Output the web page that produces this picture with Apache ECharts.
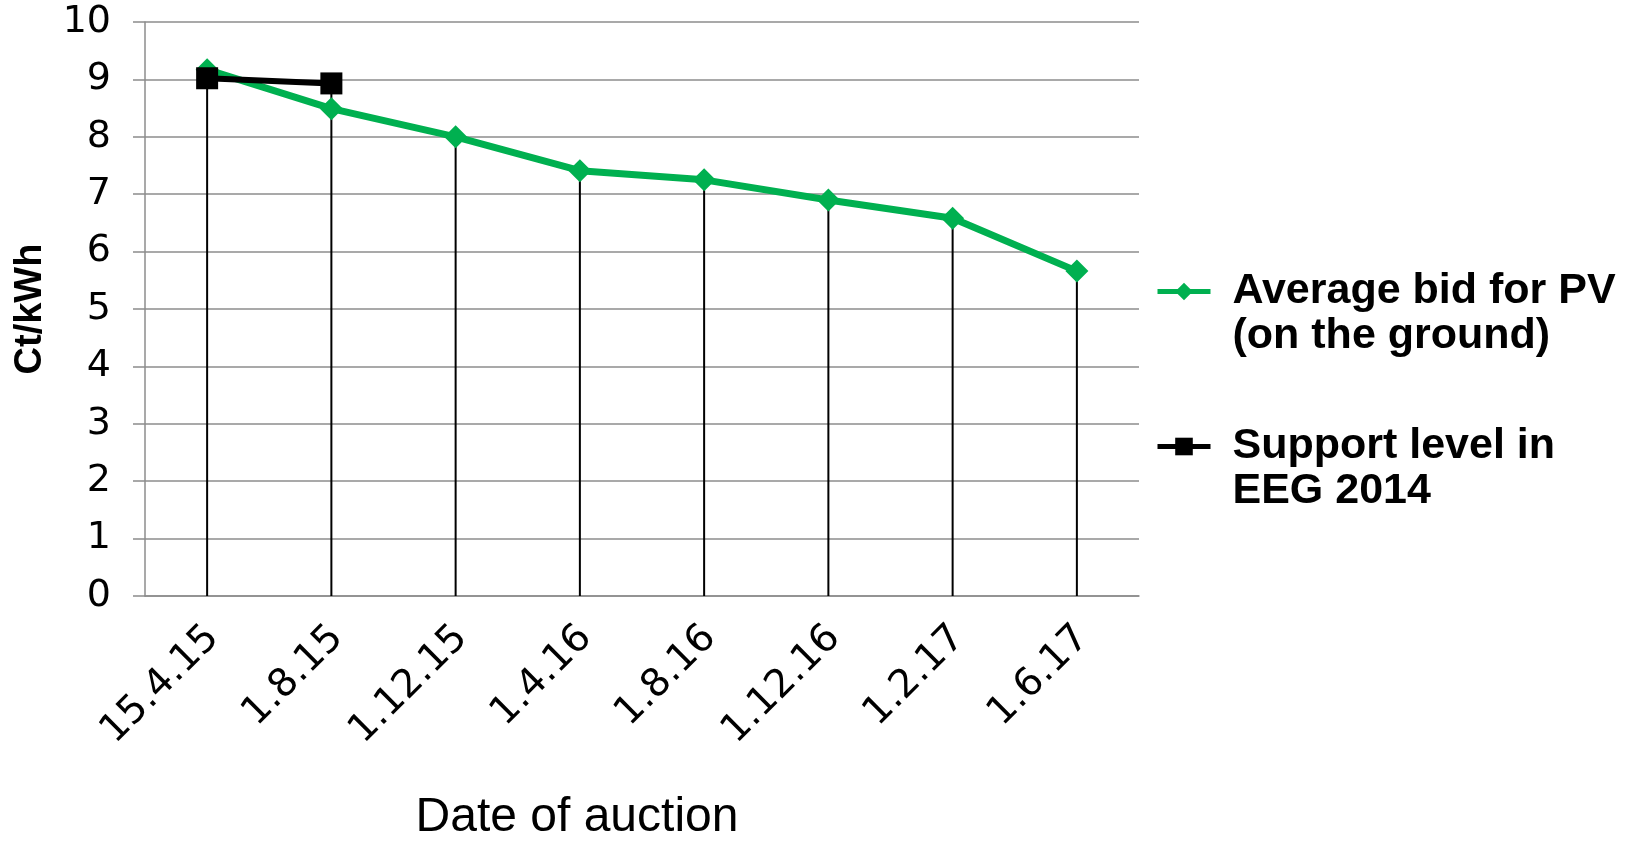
<!DOCTYPE html>
<html>
<head>
<meta charset="utf-8">
<script src="https://cdn.jsdelivr.net/npm/echarts@6/dist/echarts.min.js"></script>
<style>html,body{margin:0;padding:0;background:#fff}#c{width:1639px;height:847px}</style>
</head>
<body>
<div id="c"></div>
<script>
const categories = ['15.4.15','1.8.15','1.12.15','1.4.16','1.8.16','1.12.16','1.2.17','1.6.17'];
const avgBid = [9.17, 8.49, 8.00, 7.41, 7.25, 6.90, 6.58, 5.66];
const supportLevel = [9.02, 8.93, null, null, null, null, null, null];
const yTicks = [0,1,2,3,4,5,6,7,8,9,10];
const seriesNames = ['Average bid for PV\n(on the ground)', 'Support level in\nEEG 2014'];

const dropLines = avgBid.map((v, i) => supportLevel[i] == null ? v : Math.max(v, supportLevel[i]));

const chart = echarts.init(document.getElementById('c'));
chart.setOption({
  animation: false,
  grid: { left: 145, right: 500, top: 22, bottom: 247, containLabel: false },
  legend: {
    data: seriesNames,
    orient: 'vertical',
    left: 1150,
    top: 219,
    itemWidth: 53,
    itemHeight: 22,
    itemGap: 20,
    formatter: name => '\n' + name,
    lineStyle: { width: 5 },
    textStyle: {
      fontFamily: 'Liberation Sans, Arial, sans-serif',
      fontWeight: 'bold',
      fontSize: 43,
      color: '#000',
      lineHeight: 45,
      padding: [0, 0, 0, 17]
    }
  },
  xAxis: {
    type: 'category',
    data: categories,
    boundaryGap: true,
    name: 'Date of auction',
    nameLocation: 'middle',
    nameGap: 198,
    nameTextStyle: {
      fontFamily: 'Liberation Sans, Arial, sans-serif',
      fontSize: 48,
      color: '#000',
      padding: [0, 130, 0, 0]
    },
    axisLine: { lineStyle: { color: '#8c8c8c', width: 1.5 } },
    axisTick: { show: false },
    axisLabel: {
      rotate: 45,
      interval: 0,
      margin: 30,
      verticalAlign: 'top',
      lineHeight: 17,
      fontFamily: 'DejaVu Sans, Verdana, sans-serif',
      fontSize: 39,
      color: '#000'
    },
    splitLine: { show: false }
  },
  yAxis: {
    type: 'value',
    min: yTicks[0],
    max: yTicks[yTicks.length - 1],
    interval: 1,
    name: 'Ct/kWh',
    nameLocation: 'middle',
    nameGap: 95,
    nameRotate: 90,
    nameTextStyle: {
      fontFamily: 'Liberation Sans, Arial, sans-serif',
      fontWeight: 'bold',
      fontSize: 38,
      color: '#000'
    },
    axisLine: { show: true, lineStyle: { color: '#8c8c8c', width: 1.5 } },
    axisTick: { show: true, length: 12, lineStyle: { color: '#8c8c8c', width: 1.5 } },
    axisLabel: {
      margin: 34,
      fontFamily: 'DejaVu Sans, Verdana, sans-serif',
      fontSize: 38,
      color: '#000'
    },
    splitLine: { show: true, lineStyle: { color: '#8c8c8c', width: 1.5 } }
  },
  series: [
    {
      name: 'drop',
      type: 'bar',
      data: dropLines,
      barWidth: 2,
      itemStyle: { color: '#000' },
      silent: true,
      z: 1
    },
    {
      name: seriesNames[0],
      type: 'line',
      data: avgBid,
      symbol: 'diamond',
      symbolSize: 23,
      lineStyle: { color: '#00B050', width: 7 },
      itemStyle: { color: '#00B050' },
      z: 3
    },
    {
      name: seriesNames[1],
      type: 'line',
      data: supportLevel,
      symbol: 'rect',
      symbolSize: 22,
      lineStyle: { color: '#000', width: 6 },
      itemStyle: { color: '#000' },
      z: 4
    }
  ]
});
</script>
</body>
</html>
